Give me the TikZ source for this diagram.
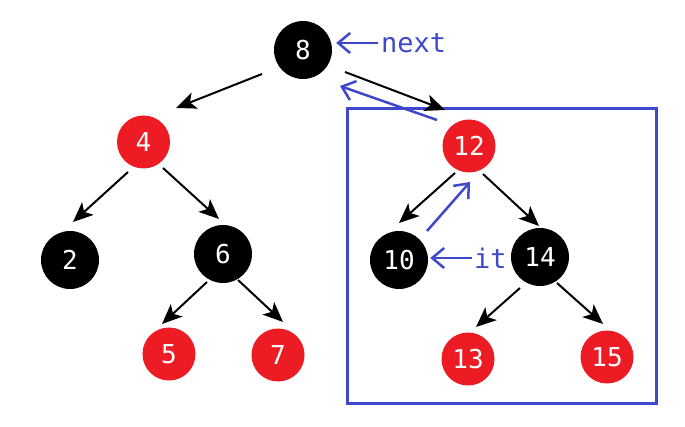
\documentclass[tikz,border=0pt]{standalone}
\usepackage{fontspec}
\setmonofont{DejaVu Sans Mono}
\usetikzlibrary{arrows.meta}
\definecolor{rbred}{HTML}{ED1C24}
\definecolor{itblue}{HTML}{3F48CC}
\begin{document}
\begin{tikzpicture}[x=1pt,y=-1pt,
  rbnode/.style={circle,inner sep=0pt,text=white,font=\ttfamily\fontsize{26}{26}\selectfont},
  blk/.style={rbnode,fill=black,minimum size=58pt},
  redn/.style={rbnode,fill=rbred,minimum size=53pt},
  arr/.style={draw=black,line width=2pt,-{Stealth[length=20pt,width=17pt,inset=5pt]}},
  barr/.style={draw=itblue,line width=2.5pt,-{Straight Barb[length=12pt,width=20pt]}},
  lbl/.style={text=itblue,inner sep=0pt,font=\ttfamily\fontsize{27}{27}\selectfont}]
\useasboundingbox (0,0) rectangle (685,427);
\node[blk]  (n8)  at (303,50)  {8};
\node[redn] (n4)  at (143.5,142) {4};
\node[blk]  (n2)  at (70,260)  {2};
\node[blk]  (n6)  at (223,254) {6};
\node[redn] (n5)  at (169,354) {5};
\node[redn] (n7)  at (278,355) {7};
\node[redn] (n12) at (469,146) {12};
\node[blk]  (n10) at (399,260) {10};
\node[blk]  (n14) at (540,257) {14};
\node[redn] (n13) at (468,359) {13};
\node[redn] (n15) at (607,357) {15};
\node[draw=itblue,line width=3pt,minimum width=309pt,minimum height=294pt,inner sep=0pt] (box) at (501.5,256) {};
\node[lbl,anchor=west] (next) at (381,43) {next};
\node[lbl,anchor=west] (it) at (474,258) {it};
% black arrows
\draw[arr] ([shift={(-41,24)}]n8.center) -- ([shift={(32.5,-34)}]n4.center);
\draw[arr] ([shift={(42,22)}]n8.center) -- ([shift={(-24,-36)}]n12.center);
\draw[arr] ([shift={(-15.5,30)}]n4.center) -- ([shift={(3,-38)}]n2.center);
\draw[arr] ([shift={(19.5,26)}]n4.center) -- ([shift={(-4,-35)}]n6.center);
\draw[arr] ([shift={(-16,28)}]n6.center) -- ([shift={(-7,-30)}]n5.center);
\draw[arr] ([shift={(15,26)}]n6.center) -- ([shift={(5,-33)}]n7.center);
\draw[arr] ([shift={(-14,27)}]n12.center) -- ([shift={(0,-37)}]n10.center);
\draw[arr] ([shift={(14,28)}]n12.center) -- ([shift={(-1,-31)}]n14.center);
\draw[arr] ([shift={(-20,31)}]n14.center) -- ([shift={(8,-32)}]n13.center);
\draw[arr] ([shift={(17,26)}]n14.center) -- ([shift={(-4,-33)}]n15.center);
% blue arrows
\draw[barr] ([xshift=-3pt]next.west) -- ([xshift=4pt]next.west -| n8.east);
\draw[barr] ([xshift=-2pt]it.west) -- ([xshift=2pt]it.west -| n10.east);
\draw[barr] ([shift={(28,-29)}]n10.center) -- ([shift={(1,36)}]n12.center);
\draw[barr] ([shift={(-32,-26)}]n12.center) -- ([shift={(37,36)}]n8.center);
\end{tikzpicture}
\end{document}
